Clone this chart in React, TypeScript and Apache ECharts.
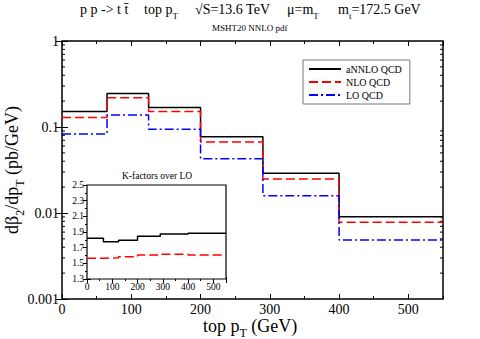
import React, { useEffect, useRef } from "react";
import * as echarts from "echarts";

// ---- data ----
const binEdges = [0, 65, 125, 200, 290, 400, 550];
const annlo = [0.151, 0.246, 0.168, 0.0771, 0.029, 0.00906];
const nlo = [0.129, 0.219, 0.151, 0.067, 0.0248, 0.00779];
const lo = [0.083, 0.138, 0.094, 0.0428, 0.0159, 0.00485];
const kAnnlo = [1.82, 1.775, 1.795, 1.845, 1.875, 1.885];
const kNlo = [1.565, 1.57, 1.585, 1.605, 1.615, 1.605];
const seriesNames = ["aNNLO QCD", "NLO QCD", "LO QCD"];
const mainYTicks = [0.001, 0.01, 0.1, 1];
const logMinor = [2, 3, 4, 5, 6, 7, 8, 9];
const kMin = 1.3;

const FONT = "Liberation Serif";

function stepData(values: number[], transform?: (v: number) => number) {
  const f = transform || ((v: number) => v);
  const pts: number[][] = values.map((v, i) => [binEdges[i], f(v)]);
  pts.push([binEdges[binEdges.length - 1], f(values[values.length - 1])]);
  return pts;
}

function minorLogValues() {
  const out: number[][] = [];
  for (let d = 0; d < mainYTicks.length - 1; d++) {
    for (const m of logMinor) out.push([0, m * mainYTicks[d]]);
  }
  return out;
}

const subRich = (base: number, sub: number, drop: number) => ({
  n: { fontSize: base, fontFamily: FONT, color: "#000", verticalAlign: "bottom", padding: [0, 0, drop, 0] },
  s: { fontSize: sub, fontFamily: FONT, color: "#000", verticalAlign: "bottom" },
});

export default function App() {
  const ref = useRef<HTMLDivElement>(null);
  useEffect(() => {
    if (!ref.current) return;
    const chart = echarts.init(ref.current, null, { renderer: "svg" });

    const xMajor = (grid: number, pos: string, len: number, labels: boolean, fs: number) => ({
      type: "value",
      gridIndex: grid,
      position: pos,
      min: 0,
      max: 550,
      interval: 100,
      axisLine: { show: false },
      splitLine: { show: false },
      axisTick: { show: true, inside: true, length: len, lineStyle: { color: "#000", width: 1 } },
      axisLabel: {
        show: labels,
        fontFamily: FONT,
        fontSize: fs,
        color: "#000",
        margin: 3,
        showMaxLabel: false,
      },
    });
    const xMinor = (grid: number, pos: string, len: number) => ({
      type: "value",
      gridIndex: grid,
      position: pos,
      min: 0,
      max: 550,
      interval: 50,
      axisLine: { show: false },
      splitLine: { show: false },
      axisTick: { show: true, inside: true, length: len, lineStyle: { color: "#000", width: 1 } },
      axisLabel: { show: false },
    });
    const kMajor = (pos: string, labels: boolean) => ({
      type: "value",
      gridIndex: 1,
      position: pos,
      min: 0,
      max: 1.2,
      interval: 0.2,
      axisLine: { show: false },
      splitLine: { show: false },
      axisTick: { show: true, inside: true, length: 4, lineStyle: { color: "#000", width: 1 } },
      axisLabel: {
        show: labels,
        fontFamily: FONT,
        fontSize: 9.5,
        color: "#000",
        margin: 3,
        formatter: (v: number) => (v + kMin).toFixed(1),
      },
    });
    const kMinor = (pos: string) => ({
      type: "value",
      gridIndex: 1,
      position: pos,
      min: 0,
      max: 1.2,
      interval: 0.1,
      axisLine: { show: false },
      splitLine: { show: false },
      axisTick: { show: true, inside: true, length: 2, lineStyle: { color: "#000", width: 1 } },
      axisLabel: { show: false },
    });
    const logAxis = (pos: string, labels: boolean) => ({
      type: "log",
      logBase: 10,
      gridIndex: 0,
      position: pos,
      min: 0.001,
      max: 1,
      axisLine: { show: false },
      splitLine: { show: false },
      minorTick: { show: false },
      axisTick: { show: true, inside: true, length: 6, lineStyle: { color: "#000", width: 1 } },
      axisLabel: {
        show: labels,
        fontFamily: FONT,
        fontSize: 14,
        color: "#000",
        margin: 3,
        formatter: (v: number) => {
          const t = mainYTicks.find((m) => Math.abs(m - v) / m < 1e-6);
          return t !== undefined ? String(t) : "";
        },
      },
    });

    const kShift = (v: number) => v - kMin;

    const option: any = {
      animation: false,
      backgroundColor: "#fff",
      textStyle: { fontFamily: FONT },
      grid: [
        { left: 62, right: 37, top: 41, bottom: 40, show: true, borderColor: "#000", borderWidth: 1.5, backgroundColor: "transparent" },
        { left: 87, top: 185, width: 139, height: 94, show: true, borderColor: "#000", borderWidth: 1.2, backgroundColor: "#fff", z: 5 },
      ],
      xAxis: [
        xMajor(0, "bottom", 5, true, 14),
        xMinor(0, "bottom", 3),
        xMajor(0, "top", 5, false, 14),
        xMinor(0, "top", 3),
        xMajor(1, "bottom", 4, true, 9.5),
        xMinor(1, "bottom", 2),
        xMajor(1, "top", 4, false, 9.5),
        xMinor(1, "top", 2),
      ],
      yAxis: [
        logAxis("left", true),
        logAxis("right", false),
        kMajor("left", true),
        kMinor("left"),
        kMajor("right", false),
        kMinor("right"),
      ],
      legend: {
        data: seriesNames,
        orient: "vertical",
        left: 303,
        top: 60,
        itemWidth: 32,
        itemHeight: 10,
        itemGap: 3,
        padding: [4, 8, 4, 5],
        borderColor: "#777",
        borderWidth: 1,
        backgroundColor: "#fff",
        itemStyle: { opacity: 0 },
        textStyle: { fontFamily: FONT, fontSize: 10, color: "#000" },
      },
      series: [
        {
          name: seriesNames[0],
          type: "line",
          step: "end",
          xAxisIndex: 0,
          yAxisIndex: 0,
          symbol: "none",
          data: stepData(annlo),
          lineStyle: { color: "#000", width: 1.5, type: "solid" },
          itemStyle: { color: "#000" },
        },
        {
          name: seriesNames[1],
          type: "line",
          step: "end",
          xAxisIndex: 0,
          yAxisIndex: 0,
          symbol: "none",
          data: stepData(nlo),
          lineStyle: { color: "#ff0000", width: 1.5, type: [9, 4] },
          itemStyle: { color: "#ff0000" },
        },
        {
          name: seriesNames[2],
          type: "line",
          step: "end",
          xAxisIndex: 0,
          yAxisIndex: 0,
          symbol: "none",
          data: stepData(lo),
          lineStyle: { color: "#0000ff", width: 1.5, type: [9, 3, 2, 3] },
          itemStyle: { color: "#0000ff" },
        },
        {
          name: "kAnnlo",
          type: "line",
          step: "end",
          xAxisIndex: 4,
          yAxisIndex: 2,
          symbol: "none",
          z: 6,
          data: stepData(kAnnlo, kShift),
          lineStyle: { color: "#000", width: 1.5 },
        },
        {
          name: "kNlo",
          type: "line",
          step: "end",
          xAxisIndex: 4,
          yAxisIndex: 2,
          symbol: "none",
          z: 6,
          data: stepData(kNlo, kShift),
          lineStyle: { color: "#ff0000", width: 1.5, type: [9, 4] },
        },
        {
          name: "logMinorTicks",
          type: "custom",
          xAxisIndex: 0,
          yAxisIndex: 0,
          clip: false,
          silent: true,
          data: minorLogValues(),
          renderItem: (params: any, api: any) => {
            const v = api.value(1);
            const p1 = api.coord([0, v]);
            const p2 = api.coord([550, v]);
            const st = { stroke: "#000", lineWidth: 1 };
            return {
              type: "group",
              children: [
                { type: "line", shape: { x1: p1[0], y1: p1[1], x2: p1[0] + 3, y2: p1[1] }, style: st },
                { type: "line", shape: { x1: p2[0] - 3, y1: p2[1], x2: p2[0], y2: p2[1] }, style: st },
              ],
            };
          },
        },
      ],
      graphic: [
        { type: "text", left: 80, top: 2, style: { text: "p p -> t t\u0304", fontFamily: FONT, fontSize: 14, fill: "#000" } },
        { type: "text", left: 144, top: 2, style: { text: "{n|top p}{s|T}", rich: subRich(14, 9, 4) } },
        { type: "text", left: 195, top: 2, style: { text: "\u221AS=13.6 TeV", fontFamily: FONT, fontSize: 14, fill: "#000" } },
        { type: "text", left: 287, top: 2, style: { text: "{n|\u03BC=m}{s|T}", rich: subRich(14, 9, 4) } },
        { type: "text", left: 338, top: 2, style: { text: "{n|m}{s|t}{n|=172.5 GeV}", rich: subRich(14, 9, 4) } },
        { type: "text", left: 212, top: 23, style: { text: "MSHT20 NNLO pdf", fontFamily: FONT, fontSize: 9, fill: "#000" } },
        { type: "text", left: 122, top: 171, z: 10, style: { text: "K-factors over LO", fontFamily: FONT, fontSize: 9.5, fill: "#000" } },
        {
          type: "text",
          x: 14,
          y: 170,
          rotation: Math.PI / 2,
          style: {
            text: "{n|d\u03B2}{s|2}{n|/dp}{s|T}{n| (pb/GeV)}",
            rich: subRich(18, 12, 5),
            align: "center",
            verticalAlign: "middle",
          },
        },
        {
          type: "text",
          left: 203,
          top: 317,
          style: { text: "{n|top p}{s|T}{n| (GeV)}", rich: subRich(18, 12, 4) },
        },
      ],
    };
    chart.setOption(option);
    return () => chart.dispose();
  }, []);
  return <div ref={ref} style={{ width: 480, height: 339, position: "fixed", left: 0, top: 0 }} />;
}
